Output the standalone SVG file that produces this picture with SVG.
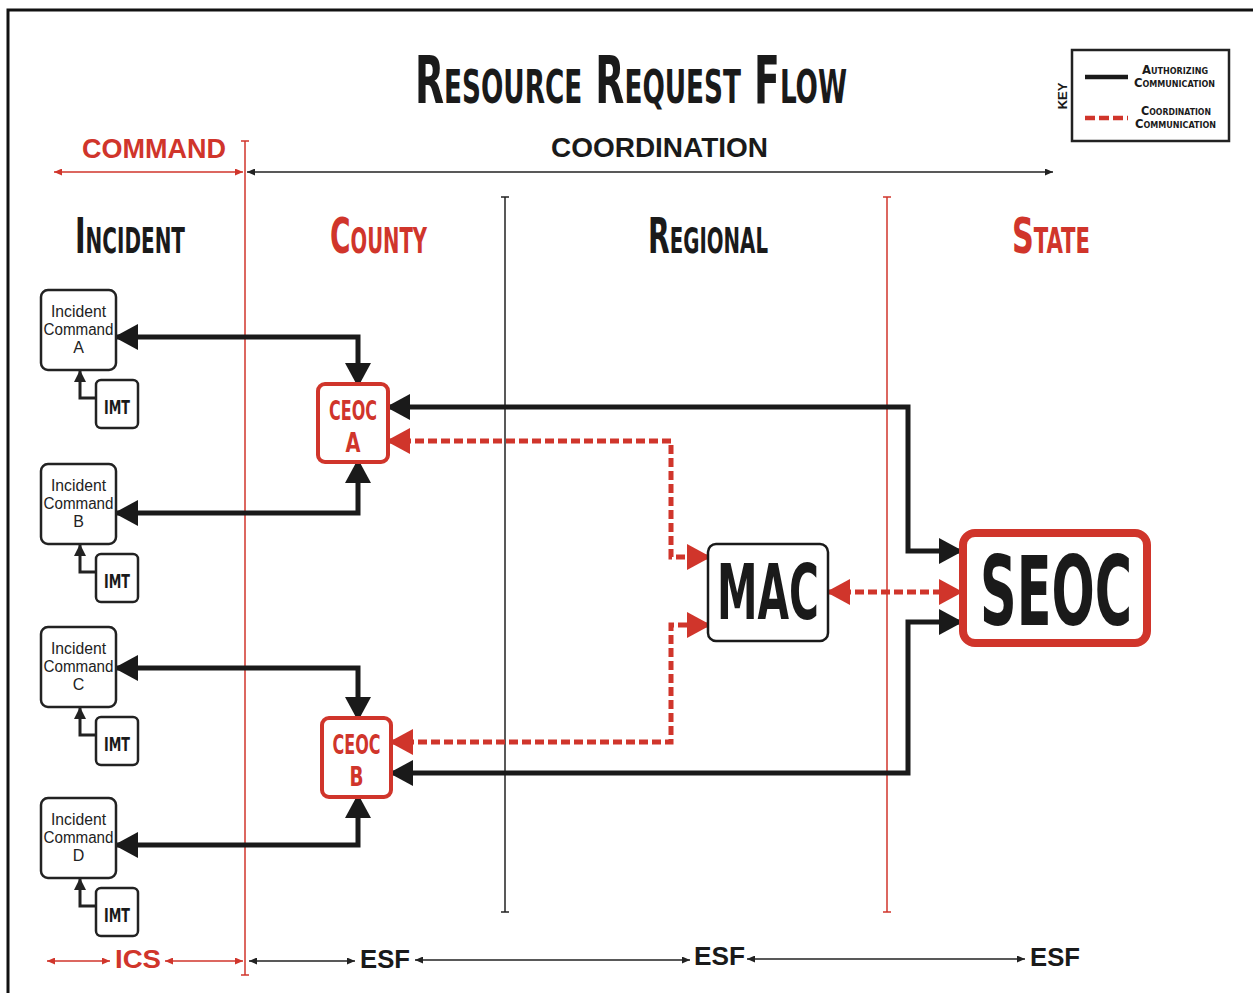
<svg xmlns="http://www.w3.org/2000/svg" width="1253" height="993" viewBox="0 0 1253 993">
<defs>
<style>
.cond{font-family:"DejaVu Sans Condensed","DejaVu Sans",sans-serif;font-weight:bold;font-stretch:condensed}
.sc{font-variant:small-caps}
.arial{font-family:"Liberation Sans",Arial,sans-serif;font-weight:bold}
.narrow{font-family:"Liberation Sans","DejaVu Sans Condensed",sans-serif;font-size:16px;fill:#222}
.blk{fill:#1a1a1a}
.red{fill:#d0352b}
.auth{fill:none;stroke:#1a1a1a;stroke-width:5;stroke-linejoin:miter}
.coord{fill:none;stroke:#d0352b;stroke-width:5;stroke-dasharray:9 4}
.ic{fill:#fff;stroke:#222;stroke-width:2.5}
.imtl{fill:none;stroke:#222;stroke-width:3}
.dimb{stroke:#222;stroke-width:1.5;fill:none}
.dimr{stroke:#d0352b;stroke-width:1.5;fill:none}
</style>
<marker id="ab" markerUnits="userSpaceOnUse" markerWidth="24" markerHeight="26" viewBox="0 0 24 26" refX="21" refY="13" orient="auto-start-reverse"><path d="M0,0 L24,13 L0,26 z" fill="#1a1a1a"/></marker>
<marker id="ar" markerUnits="userSpaceOnUse" markerWidth="24" markerHeight="26" viewBox="0 0 24 26" refX="21" refY="13" orient="auto-start-reverse"><path d="M0,0 L24,13 L0,26 z" fill="#d0352b"/></marker>
<marker id="as" markerUnits="userSpaceOnUse" markerWidth="12" markerHeight="12" viewBox="0 0 12 12" refX="11" refY="6" orient="auto-start-reverse"><path d="M0,0 L12,6 L0,12 z" fill="#222"/></marker>
<marker id="tb" markerUnits="userSpaceOnUse" markerWidth="8" markerHeight="7" viewBox="0 0 8 7" refX="8" refY="3.5" orient="auto-start-reverse"><path d="M0,0 L8,3.5 L0,7 z" fill="#222"/></marker>
<marker id="tr" markerUnits="userSpaceOnUse" markerWidth="8" markerHeight="7" viewBox="0 0 8 7" refX="8" refY="3.5" orient="auto-start-reverse"><path d="M0,0 L8,3.5 L0,7 z" fill="#d0352b"/></marker>
</defs>
<rect width="1253" height="993" fill="#fff"/>
<path d="M8,993 V10 H1253" fill="none" stroke="#111" stroke-width="3"/>

<g id="title">
<text class="cond sc blk" x="415" y="103" font-size="66" textLength="432" lengthAdjust="spacingAndGlyphs">Resource Request Flow</text>
</g>

<g id="scale-labels">
<text class="arial red" x="82" y="158" font-size="27" textLength="144" lengthAdjust="spacingAndGlyphs">COMMAND</text>
<text class="arial blk" x="551" y="157" font-size="27" textLength="217" lengthAdjust="spacingAndGlyphs">COORDINATION</text>
<line class="dimr" x1="54" y1="172" x2="243" y2="172" marker-start="url(#tr)" marker-end="url(#tr)"/>
<line class="dimb" x1="247" y1="172" x2="1053" y2="172" marker-start="url(#tb)" marker-end="url(#tb)"/>
</g>

<g id="dividers">
<line x1="245" y1="141" x2="245" y2="975" stroke="#d0352b" stroke-width="1.5"/>
<line x1="241" y1="141" x2="249" y2="141" stroke="#d0352b" stroke-width="1.5"/>
<line x1="241" y1="975" x2="249" y2="975" stroke="#d0352b" stroke-width="1.5"/>
<line x1="505" y1="197" x2="505" y2="912" stroke="#222" stroke-width="1.5"/>
<line x1="501" y1="197" x2="509" y2="197" stroke="#222" stroke-width="1.5"/>
<line x1="501" y1="912" x2="509" y2="912" stroke="#222" stroke-width="1.5"/>
<line x1="887" y1="197" x2="887" y2="912" stroke="#d0352b" stroke-width="1.5"/>
<line x1="883" y1="197" x2="891" y2="197" stroke="#d0352b" stroke-width="1.5"/>
<line x1="883" y1="912" x2="891" y2="912" stroke="#d0352b" stroke-width="1.5"/>
</g>

<g id="headers">
<text class="cond sc blk" x="75" y="253" font-size="50" textLength="110" lengthAdjust="spacingAndGlyphs">Incident</text>
<text class="cond sc red" x="330" y="253" font-size="50" textLength="97" lengthAdjust="spacingAndGlyphs">County</text>
<text class="cond sc blk" x="648" y="253" font-size="50" textLength="120" lengthAdjust="spacingAndGlyphs">Regional</text>
<text class="cond sc red" x="1012" y="253" font-size="50" textLength="78" lengthAdjust="spacingAndGlyphs">State</text>
</g>

<g id="key">
<rect x="1072" y="50" width="157" height="91" fill="#fff" stroke="#222" stroke-width="2.5"/>
<text class="arial blk" font-size="13" transform="translate(1067,96) rotate(-90)" text-anchor="middle" font-weight="normal">KEY</text>
<line x1="1085" y1="77" x2="1128" y2="77" stroke="#1a1a1a" stroke-width="4.5"/>
<line x1="1085" y1="118" x2="1128" y2="118" stroke="#d0352b" stroke-width="4.5" stroke-dasharray="10 4"/>
<text class="cond sc blk" x="1142" y="74" font-size="13" font-weight="normal" textLength="66" lengthAdjust="spacingAndGlyphs">Authorizing</text>
<text class="cond sc blk" x="1134" y="87" font-size="13" font-weight="normal" textLength="81" lengthAdjust="spacingAndGlyphs">Communication</text>
<text class="cond sc blk" x="1141" y="115" font-size="13" font-weight="normal" textLength="70" lengthAdjust="spacingAndGlyphs">Coordination</text>
<text class="cond sc blk" x="1135" y="128" font-size="13" font-weight="normal" textLength="81" lengthAdjust="spacingAndGlyphs">Communication</text>
</g>

<g id="connectors">
<path class="auth" d="M117,337 H358 V384" marker-start="url(#ab)" marker-end="url(#ab)"/>
<path class="auth" d="M117,513 H358 V462" marker-start="url(#ab)" marker-end="url(#ab)"/>
<path class="auth" d="M117,668 H358 V718" marker-start="url(#ab)" marker-end="url(#ab)"/>
<path class="auth" d="M117,845 H358 V797" marker-start="url(#ab)" marker-end="url(#ab)"/>
<path class="auth" d="M389,407 H908 V551 H960" marker-start="url(#ab)" marker-end="url(#ab)"/>
<path class="auth" d="M392,773 H908 V622 H960" marker-start="url(#ab)" marker-end="url(#ab)"/>
<path class="coord" d="M389,441 H671 V557 H708" marker-start="url(#ar)" marker-end="url(#ar)"/>
<path class="coord" d="M392,742 H671 V625 H708" marker-start="url(#ar)" marker-end="url(#ar)"/>
<path class="coord" d="M829,592 H960" marker-start="url(#ar)" marker-end="url(#ar)"/>
<path class="imtl" d="M96,398 H80 V371" marker-end="url(#as)"/>
<path class="imtl" d="M96,572 H80 V545" marker-end="url(#as)"/>
<path class="imtl" d="M96,735 H80 V708" marker-end="url(#as)"/>
<path class="imtl" d="M96,906 H80 V879" marker-end="url(#as)"/>
</g>

<g id="ic-a">
<rect class="ic" x="41" y="290" width="75" height="80" rx="7"/>
<text class="narrow" text-anchor="middle" x="78.5" y="317" textLength="55" lengthAdjust="spacingAndGlyphs">Incident</text>
<text class="narrow" text-anchor="middle" x="78.5" y="335" textLength="70" lengthAdjust="spacingAndGlyphs">Command</text>
<text class="narrow" text-anchor="middle" x="78.5" y="353">A</text>
</g>
<g id="imt-a"><rect class="ic" x="96" y="380" width="42" height="48" rx="5"/><text class="cond blk" x="117" y="414" font-size="20" text-anchor="middle" textLength="26" lengthAdjust="spacingAndGlyphs">IMT</text></g>

<g id="ic-b">
<rect class="ic" x="41" y="464" width="75" height="80" rx="7"/>
<text class="narrow" text-anchor="middle" x="78.5" y="491" textLength="55" lengthAdjust="spacingAndGlyphs">Incident</text>
<text class="narrow" text-anchor="middle" x="78.5" y="509" textLength="70" lengthAdjust="spacingAndGlyphs">Command</text>
<text class="narrow" text-anchor="middle" x="78.5" y="527">B</text>
</g>
<g id="imt-b"><rect class="ic" x="96" y="554" width="42" height="48" rx="5"/><text class="cond blk" x="117" y="588" font-size="20" text-anchor="middle" textLength="26" lengthAdjust="spacingAndGlyphs">IMT</text></g>

<g id="ic-c">
<rect class="ic" x="41" y="627" width="75" height="80" rx="7"/>
<text class="narrow" text-anchor="middle" x="78.5" y="654" textLength="55" lengthAdjust="spacingAndGlyphs">Incident</text>
<text class="narrow" text-anchor="middle" x="78.5" y="672" textLength="70" lengthAdjust="spacingAndGlyphs">Command</text>
<text class="narrow" text-anchor="middle" x="78.5" y="690">C</text>
</g>
<g id="imt-c"><rect class="ic" x="96" y="717" width="42" height="48" rx="5"/><text class="cond blk" x="117" y="751" font-size="20" text-anchor="middle" textLength="26" lengthAdjust="spacingAndGlyphs">IMT</text></g>

<g id="ic-d">
<rect class="ic" x="41" y="798" width="75" height="80" rx="7"/>
<text class="narrow" text-anchor="middle" x="78.5" y="825" textLength="55" lengthAdjust="spacingAndGlyphs">Incident</text>
<text class="narrow" text-anchor="middle" x="78.5" y="843" textLength="70" lengthAdjust="spacingAndGlyphs">Command</text>
<text class="narrow" text-anchor="middle" x="78.5" y="861">D</text>
</g>
<g id="imt-d"><rect class="ic" x="96" y="888" width="42" height="48" rx="5"/><text class="cond blk" x="117" y="922" font-size="20" text-anchor="middle" textLength="26" lengthAdjust="spacingAndGlyphs">IMT</text></g>

<g id="ceoc-a">
<rect x="318" y="384" width="70" height="78" rx="7" fill="#fff" stroke="#d0352b" stroke-width="4"/>
<text class="cond red" x="353" y="420" font-size="27" text-anchor="middle" textLength="48" lengthAdjust="spacingAndGlyphs">CEOC</text>
<text class="cond red" x="353" y="452" font-size="27" text-anchor="middle" textLength="15" lengthAdjust="spacingAndGlyphs">A</text>
</g>
<g id="ceoc-b">
<rect x="322" y="718" width="69" height="79" rx="7" fill="#fff" stroke="#d0352b" stroke-width="4"/>
<text class="cond red" x="356.5" y="754" font-size="27" text-anchor="middle" textLength="48" lengthAdjust="spacingAndGlyphs">CEOC</text>
<text class="cond red" x="356.5" y="786" font-size="27" text-anchor="middle" textLength="14" lengthAdjust="spacingAndGlyphs">B</text>
</g>

<g id="mac">
<rect x="708" y="544" width="120" height="97" rx="8" fill="#fff" stroke="#1a1a1a" stroke-width="2.5"/>
<text class="cond blk" x="768" y="619" font-size="76" text-anchor="middle" textLength="102" lengthAdjust="spacingAndGlyphs">MAC</text>
</g>

<g id="seoc">
<rect x="963" y="533" width="184" height="110" rx="12" fill="#fff" stroke="#d0352b" stroke-width="8"/>
<text class="cond blk" x="1056" y="625" font-size="96" text-anchor="middle" textLength="152" lengthAdjust="spacingAndGlyphs">SEOC</text>
</g>

<g id="bottom-scale">
<line class="dimr" x1="47" y1="961" x2="110" y2="961" marker-start="url(#tr)" marker-end="url(#tr)"/>
<text class="arial red" x="115" y="968" font-size="26" textLength="46" lengthAdjust="spacingAndGlyphs">ICS</text>
<line class="dimr" x1="165" y1="961" x2="243" y2="961" marker-start="url(#tr)" marker-end="url(#tr)"/>
<line class="dimb" x1="249" y1="961" x2="355" y2="961" marker-start="url(#tb)" marker-end="url(#tb)"/>
<text class="arial blk" x="360" y="968" font-size="26" textLength="50" lengthAdjust="spacingAndGlyphs">ESF</text>
<line class="dimb" x1="415" y1="960" x2="690" y2="960" marker-start="url(#tb)" marker-end="url(#tb)"/>
<text class="arial blk" x="694" y="965" font-size="26" textLength="51" lengthAdjust="spacingAndGlyphs">ESF</text>
<line class="dimb" x1="747" y1="959" x2="1025" y2="959" marker-start="url(#tb)" marker-end="url(#tb)"/>
<text class="arial blk" x="1030" y="966" font-size="26" textLength="50" lengthAdjust="spacingAndGlyphs">ESF</text>
</g>
</svg>
